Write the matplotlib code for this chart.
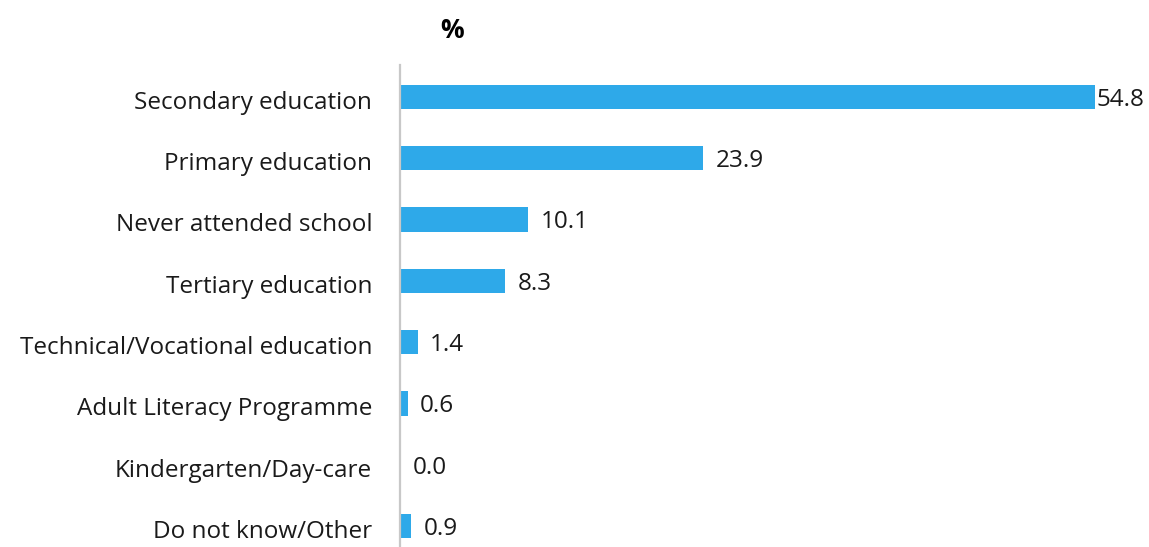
import matplotlib.pyplot as plt
from matplotlib.transforms import ScaledTranslation

plt.rcParams['font.family'] = ['Open Sans', 'DejaVu Sans']

categories = ['Secondary education', 'Primary education', 'Never attended school',
              'Tertiary education', 'Technical/Vocational education',
              'Adult Literacy Programme', 'Kindergarten/Day-care', 'Do not know/Other']
values = [54.8, 23.9, 10.1, 8.3, 1.4, 0.6, 0.0, 0.9]

fig = plt.figure(figsize=(11.49, 5.47), dpi=100)
ax = fig.add_axes([400 / 1149, 0.0, 695 / 1149, 1 - 65 / 547])

y = list(range(len(categories)))
ax.barh(y, values, height=0.4, color='#2EA9E9')

ax.set_xlim(0, max(values))
ax.set_ylim(len(categories) - 1 + 0.34, -0.52)
ax.set_yticks(y)
ax.set_yticklabels(categories, fontsize=17.5, color='#1a1a1a')
ax.tick_params(axis='y', length=0, pad=20)
ax.set_xticks([])
# nudge category labels down a little
shift = ScaledTranslation(0, -2 / 72, fig.dpi_scale_trans)
for lab in ax.get_yticklabels():
    lab.set_transform(lab.get_transform() + shift)

for s in ['top', 'right', 'bottom']:
    ax.spines[s].set_visible(False)
ax.spines['left'].set_color('#c8c8c8')
ax.spines['left'].set_linewidth(1.6)

# value labels; the longest bar's label sits close to its end
for yi, v in zip(y, values):
    pad = 1 if v == max(values) else 9
    ax.annotate(f'{v:.1f}', (v, yi), xytext=(pad, -2), textcoords='offset points',
                ha='left', va='center', fontsize=17.5, color='#1a1a1a',
                annotation_clip=False)

fig.text(452 / 1149, 1 - 30 / 547, '%', ha='center', va='center',
         fontsize=19, fontweight='bold')

fig.savefig('out.png', dpi=100)
